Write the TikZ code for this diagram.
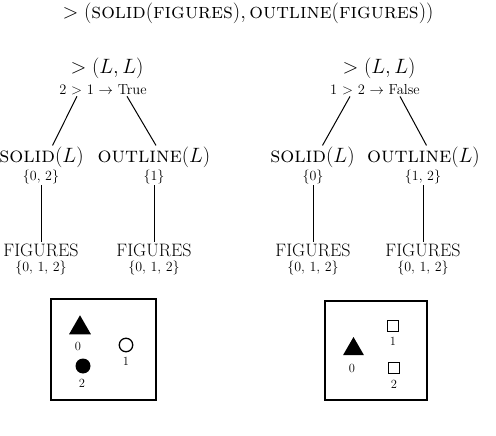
\documentclass[tikz,border=0pt]{standalone}
\usepackage{tikz}
\usetikzlibrary{shapes.geometric,calc}
\tikzset{
  headterm/.style={inner sep=1pt, font=\fontsize{21.5}{25}\selectfont},
  rootterm/.style={inner sep=1pt, font=\fontsize{20}{24}\selectfont},
  fnterm/.style={inner sep=1pt, font=\fontsize{22}{26}\selectfont},
  figterm/.style={inner sep=1pt, font=\fontsize{18}{21}\selectfont},
  cmplbl/.style={inner sep=1pt, font=\fontsize{14.5}{17}\selectfont},
  setlbl/.style={inner sep=1pt, font=\fontsize{14}{16}\selectfont},
  idx/.style={inner sep=0pt, font=\fontsize{12.5}{14}\selectfont},
  edge/.style={draw=black, line width=1pt},
  panel/.style={draw=black, line width=1.7pt, inner sep=0pt},
  solidtri/.style={regular polygon, regular polygon sides=3, fill=black, inner sep=0pt},
  solidcirc/.style={circle, fill=black, inner sep=0pt, minimum size=15pt},
  opencirc/.style={circle, draw=black, line width=1.3pt, inner sep=0pt, minimum size=13.5pt},
  opensq/.style={rectangle, draw=black, line width=1.3pt, inner sep=0pt, minimum size=11pt}
}

\begin{document}
\begin{tikzpicture}[x=1pt, y=-1pt]
\useasboundingbox (0,0) rectangle (496,436);
% title
\node[headterm] (title) at (248,13) {$>(\textsc{solid}(\textsc{figures}), \textsc{outline}(\textsc{figures}))$};

% left tree
\node[rootterm] (rootA) at (107,68) {$>(L,L)$};
\node[cmplbl] (cmpA) at (103,90) {2 $>$ 1 $\rightarrow$ True};
\node[fnterm] (solA) at (41.5,157) {$\textsc{solid}(L)$};
\node[fnterm] (outA) at (154,157) {$\textsc{outline}(L)$};
\node[setlbl] (setSA) at (41,177) {\{0, 2\}};
\node[setlbl] (setOA) at (154,177) {\{1\}};
\node[figterm] (figSA) at (41,250) {FIGURES};
\node[figterm] (figOA) at (154,250) {FIGURES};
\node[setlbl] (allSA) at (41,268) {\{0, 1, 2\}};
\node[setlbl] (allOA) at (154,268) {\{0, 1, 2\}};
\draw[edge] ([xshift=-26pt]cmpA.south) -- ([xshift=11pt]solA.north);
\draw[edge] ([xshift=24pt]cmpA.south) -- ([xshift=2pt]outA.north);
\draw[edge] (setSA.south) -- (figSA.north);
\draw[edge] (setOA.south) -- (figOA.north);

% right tree
\node[rootterm] (rootB) at (379,68) {$>(L,L)$};
\node[cmplbl] (cmpB) at (375,90) {1 $>$ 2 $\rightarrow$ False};
\node[fnterm] (solB) at (312.5,157) {$\textsc{solid}(L)$};
\node[fnterm] (outB) at (423.5,157) {$\textsc{outline}(L)$};
\node[setlbl] (setSB) at (313,177) {\{0\}};
\node[setlbl] (setOB) at (423,177) {\{1, 2\}};
\node[figterm] (figSB) at (313,250) {FIGURES};
\node[figterm] (figOB) at (423,250) {FIGURES};
\node[setlbl] (allSB) at (313,268) {\{0, 1, 2\}};
\node[setlbl] (allOB) at (423,268) {\{0, 1, 2\}};
\draw[edge] ([xshift=-25pt]cmpB.south) -- ([xshift=10pt]solB.north);
\draw[edge] ([xshift=25pt]cmpB.south) -- ([xshift=3pt]outB.north);
\draw[edge] (setSB.south) -- (figSB.north);
\draw[edge] (setOB.south) -- (figOB.north);

% left scene
\node[panel, minimum width=105pt, minimum height=101pt] (sceneA) at (103.5,349.5) {};
\node[solidtri, minimum size=25.4pt] (triA) at (80,328) {};
\node[idx] (triAlbl) at (78,346) {0};
\node[opencirc] (circA) at (126,345) {};
\node[idx] (circAlbl) at (126,361) {1};
\node[solidcirc] (dotA) at (83,366) {};
\node[idx] (dotAlbl) at (82,383) {2};

% right scene
\node[panel, minimum width=102pt, minimum height=99pt] (sceneB) at (376,350.5) {};
\node[solidtri, minimum size=24pt] (triB) at (353.5,349) {};
\node[idx] (triBlbl) at (352,368) {0};
\node[opensq] (sqB) at (393,326) {};
\node[idx] (sqBlbl) at (393,341) {1};
\node[opensq] (sqC) at (394,368) {};
\node[idx] (sqClbl) at (394,384) {2};
\end{tikzpicture}
\end{document}
